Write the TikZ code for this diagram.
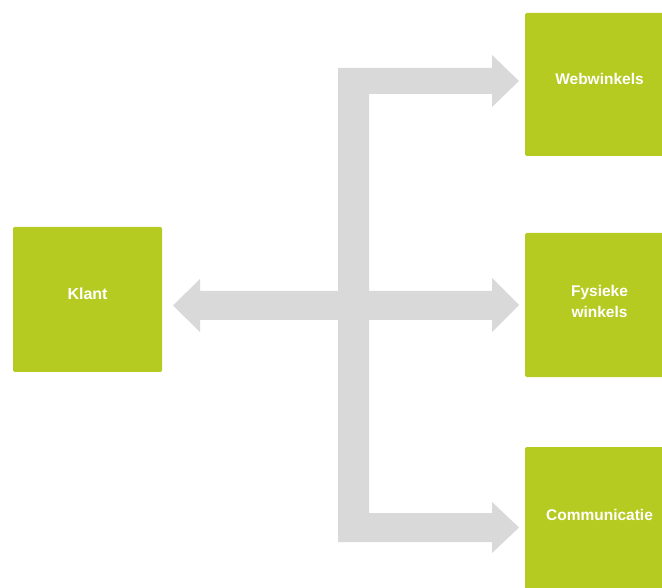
\documentclass[tikz,border=0pt]{standalone}
\usepackage{fontspec}
\setmainfont{Liberation Sans}
\definecolor{boxgreen}{RGB}{181,203,34}
\definecolor{bargray}{RGB}{217,217,217}
\tikzset{
  greenbox/.style={fill=boxgreen, draw=none, rounded corners=1.5pt,
    minimum width=149pt, minimum height=144pt, inner sep=0pt,
    text=white, font=\fontsize{15.5}{21}\selectfont\bfseries, align=center},
  oneline/.style={text height=11pt, text depth=10pt},
  twoline/.style={text depth=8pt},
  grayshape/.style={fill=bargray, draw=none}
}
\begin{document}
\begin{tikzpicture}[x=1pt,y=-1pt]
\useasboundingbox (0,0) rectangle (662,588);
\clip (0,0) rectangle (662,588);
\fill[white] (0,0) rectangle (662,588);
% gray arrow shape
\fill[grayshape] (338,68) -- (492,68) -- (492,55) -- (519,81) -- (492,107) -- (492,94)
  -- (369,94) -- (369,291) -- (492,291) -- (492,278) -- (519,305) -- (492,332) -- (492,320)
  -- (369,320) -- (369,513) -- (492,513) -- (492,502) -- (519,527.5) -- (492,553) -- (492,542)
  -- (338,542) -- (338,320) -- (200,320) -- (200,332) -- (173,305.5) -- (200,279) -- (200,291)
  -- (338,291) -- cycle;
% boxes
\node[greenbox, oneline, minimum height=145pt, font=\fontsize{16}{21}\selectfont\bfseries] (klant) at (87.5,299.5) {Klant};
\node[greenbox, oneline, minimum height=143pt] (web) at (599.5,84.5) {Webwinkels};
\node[greenbox, twoline] (fys) at (599.5,305) {Fysieke\\winkels};
\node[greenbox, oneline, text depth=7pt, minimum height=143pt] (comm) at (599.5,518.5) {Communicatie};
\end{tikzpicture}
\end{document}
